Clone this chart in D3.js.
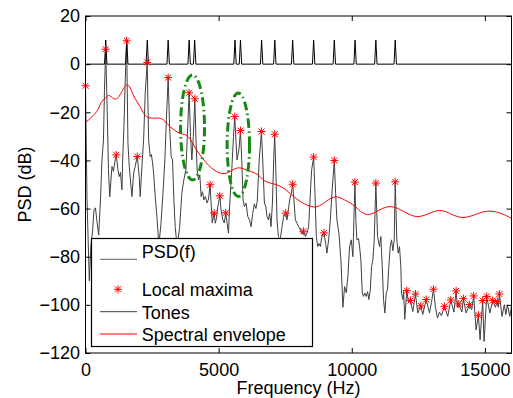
<!DOCTYPE html>
<html>
<head>
<meta charset="utf-8">
<script src="https://cdn.jsdelivr.net/npm/d3@7"></script>
<style>
  body { margin: 0; background: #fff; }
  svg { display: block; font-family: 'Liberation Sans', Arial, Helvetica, sans-serif; }
</style>
</head>
<body>
<div id="chart"></div>
<script>
// tone frequencies (Hz), drawn as spikes from 0 to 10 dB
var toneFreqs = [760, 1550, 2320, 3105, 3893, 4100, 5615, 5820, 6615, 7110, 7780, 8569, 9345, 10125, 10905, 11633];
var toneLevel = 10;

// measured PSD: [frequency (Hz), level (dB)]
var psdData = [
  [0, -9.0], [56, -56], [143, -90], [206, -75], [263, -69.7], [319, -60.6], [375, -59.7], [431, -65.5], [495, -71],
  [563, -56.4], [619, -39.8], [675, -31.5], [713, -10.7], [758, 6.2], [806, -14.8], [863, -43.9], [911, -55.1],
  [994, -42.5], [1050, -44.5], [1118, -39.5], [1155, -37.7], [1219, -43.9], [1268, -46.7], [1313, -45], [1369, -52.2],
  [1395, -39.8], [1444, -25.9], [1493, -6.5], [1545, 9.7], [1594, -32.8], [1643, -42.5], [1744, -55], [1808, -45.3],
  [1856, -43], [1943, -38.4], [1969, -41.1], [2018, -46.7], [2055, -55], [2119, -42.5], [2183, -31.4], [2243, -12],
  [2318, 0.7], [2370, -31.4], [2430, -38.4], [2475, -37.5], [2520, -41.1], [2558, -45.3], [2618, -55], [2681, -63.3],
  [2756, -75], [2831, -66.8], [2906, -54.4], [2981, -39.8], [3038, -23.1], [3105, -5.6],
  [3158, -25.9], [3218, -38.4], [3270, -39.8], [3319, -56.4], [3368, -67.5], [3443, -76], [3533, -68], [3619, -53.6],
  [3694, -48], [3769, -44], [3825, -30], [3893, -11.9], [3945, -30], [3994, -39.8], [4050, -30], [4106, -14.4],
  [4155, -32.8], [4193, -43.9], [4245, -48.1], [4294, -46], [4343, -55], [4395, -53], [4444, -56.4], [4500, -55],
  [4568, -57.7], [4620, -56], [4680, -50.1], [4718, -57.7], [4760, -66], [4830, -61.9], [4875, -66.1], [4920, -64],
  [4969, -59.2], [5044, -54.7], [5093, -60.5], [5156, -64.7], [5213, -66], [5269, -61.8], [5318, -66.1], [5370, -70.2],
  [5419, -57.7], [5494, -43.9], [5558, -30.1], [5606, -21.8], [5651, -32], [5693, -39.8], [5768, -35], [5820, -27.6],
  [5869, -39.8], [5918, -56.4], [5970, -59.2], [6030, -57.7], [6094, -63.3], [6158, -64.7], [6218, -67.5], [6281, -62],
  [6340, -58], [6400, -60], [6450, -57], [6525, -39.8], [6608, -28], [6656, -39.8], [6720, -57.7], [6769, -59],
  [6818, -63.3], [6870, -64.7], [6919, -62], [6968, -67.5], [7020, -57.7], [7069, -39.8], [7106, -29.1], [7155, -46.7],
  [7193, -64.7], [7245, -71.6], [7313, -73], [7380, -67.5], [7444, -63.3], [7519, -61.9], [7568, -64.7], [7620, -60.5],
  [7669, -56.4], [7733, -53.6], [7781, -49.9], [7819, -55], [7883, -64.7], [7943, -66.1], [8006, -67.5], [8070, -68.8],
  [8130, -70.5], [8183, -69.4], [8258, -71.6], [8318, -70.2], [8381, -67.5], [8445, -53.6], [8494, -43.9], [8569, -38.6],
  [8618, -53.6], [8670, -71.6], [8719, -75.8], [8768, -74.5], [8820, -75.8], [8880, -71.6], [8955, -70.1], [9019, -74.4],
  [9068, -78.5], [9131, -73], [9195, -64.7], [9255, -53.6], [9345, -40.0], [9394, -53.6], [9443, -64.7], [9518, -70.2],
  [9593, -81.3], [9668, -101],
  [9731, -92.4], [9795, -95], [9855, -88.2], [9919, -75.8], [9983, -73], [10043, -80], [10080, -65], [10118, -49.0],
  [10155, -65], [10193, -73], [10256, -72.5], [10294, -75.8], [10343, -81.3], [10395, -95.1], [10444, -96.5],
  [10493, -95.1], [10545, -96.5], [10594, -94.5], [10643, -97.8], [10695, -94], [10744, -84.1], [10793, -81.3],
  [10845, -73], [10905, -49.4], [10969, -71.6], [11044, -75.8], [11093, -71.6], [11145, -84.1], [11194, -97.8],
  [11243, -103.4], [11295, -95.1], [11344, -93.5], [11393, -84.1], [11445, -75.8], [11494, -73], [11543, -77.5],
  [11595, -73], [11633, -48.9], [11693, -73], [11745, -78.5], [11794, -75.8], [11843, -84.1], [11869, -95.1],
  [11918, -97.8], [11950, -94.5], [11990, -106],
  [12068, -94.1], [12131, -99], [12206, -98.2], [12293, -102.8], [12394, -95.5], [12480, -103.4], [12593, -100.4],
  [12668, -104], [12795, -97.8], [12919, -103.4], [12994, -99], [13069, -93.5], [13144, -101], [13219, -105.5],
  [13294, -103], [13369, -104.5], [13481, -100.6], [13605, -104.8], [13718, -98.0], [13838, -103], [13920, -94.2],
  [13969, -101], [14018, -99.6], [14138, -103], [14194, -97.4], [14295, -103.4], [14419, -99.9], [14505, -102],
  [14580, -96.3], [14670, -110.4], [14756, -104.3], [14820, -114.5], [14918, -98.2], [14970, -115.2], [15068, -96.5],
  [15188, -103.4], [15293, -98.2], [15394, -101], [15469, -98.6], [15506, -101], [15544, -95.5], [15645, -104.8],
  [15731, -99.9], [15788, -104], [15844, -100], [15938, -104.8], [16000, -100.6]
];

// detected local maxima: [frequency (Hz), level (dB)]
var maximaData = [
  [0, -9.0], [758, 6.2], [1155, -37.7], [1545, 9.7], [1943, -38.4], [2318, 0.7], [3105, -5.6], [3893, -11.9],
  [4106, -14.4], [4680, -50.1], [4830, -61.9], [5044, -54.7], [5269, -61.8], [5606, -21.8], [5820, -27.6],
  [6608, -28], [7106, -29.1], [7519, -61.9], [7781, -49.9], [8183, -69.4], [8569, -38.6], [8955, -70.1], [9345, -40.0],
  [10118, -49.0], [10905, -49.4], [11633, -48.9],
  [12068, -94.1], [12206, -98.2], [12394, -95.5], [12593, -100.4], [12795, -97.8], [13069, -93.5], [13481, -100.6],
  [13718, -98.0], [13920, -94.2], [14018, -99.6], [14194, -97.4], [14419, -99.9], [14580, -96.3], [14756, -104.3],
  [14918, -98.2], [15068, -96.5], [15293, -98.2], [15469, -98.6], [15544, -95.5]
];

// spectral envelope: [frequency (Hz), level (dB)]
var envelopeData = [
  [0, -24.3], [420, -19.7], [581, -16.1], [795, -13.5], [919, -13.2], [1106, -14.5], [1294, -12.8], [1568, -8.6],
  [1793, -12.8], [2044, -17.6], [2295, -21.8], [2670, -22.4], [2918, -23.1], [3169, -25.9], [3544, -28.7],
  [3855, -30.1], [4170, -35.6], [4545, -41.1], [4920, -44.6], [5295, -45.3], [5670, -43.2], [6045, -43.9],
  [6480, -46.0], [6731, -48.5], [7170, -50.1], [7545, -52.4], [7931, -56.0], [8318, -58.5], [8693, -59.2],
  [9068, -56.8], [9394, -55.1], [9731, -56.4], [10144, -59.3], [10669, -62.4], [11483, -59.2], [12420, -63.3],
  [13294, -60.8], [14145, -63.7], [15083, -61.1], [16000, -64]
];

// highlighted tone pairs: centre (Hz, dB) and half-widths (Hz, dB)
var highlightCx = [4020, 5740];
var highlightCy = [-26.3, -33.5];
var highlightRx = [450, 420];
var highlightRy = [21.8, 21.5];

var xTicks = [0, 5000, 10000, 15000];
var yTicks = [20, 0, -20, -40, -60, -80, -100, -120];
var legendLabels = ['PSD(f)', 'Local maxima', 'Tones', 'Spectral envelope'];

(function(d3) {
  'use strict';
  var width = 513;
  var height = 398;
  var mLeft = 85.5, mRight = 511.5, mTop = 16, mBottom = 353;

  var x = d3.scaleLinear().domain([0, 16000]).range([mLeft, mRight]);
  var y = d3.scaleLinear().domain([-120, 20]).range([mBottom, mTop]);

  var svg = d3.select('#chart')
    .append('svg')
    .attr('width', width)
    .attr('height', height);

  svg.append('defs').append('clipPath')
    .attr('id', 'plotclip')
    .append('rect')
    .attr('x', mLeft)
    .attr('y', mTop)
    .attr('width', mRight - mLeft)
    .attr('height', mBottom - mTop);

  var plot = svg.append('g').attr('clip-path', 'url(#plotclip)');

  var line = d3.line()
    .x(function(d) { return x(d[0]); })
    .y(function(d) { return y(d[1]); });

  // PSD curve
  plot.append('path')
    .datum(psdData)
    .attr('fill', 'none')
    .attr('stroke', '#404040')
    .attr('stroke-width', 1)
    .attr('stroke-linejoin', 'round')
    .attr('d', line);

  // tones: zero baseline with narrow spikes
  var tonePts = [[0, 0]];
  toneFreqs.forEach(function(f) {
    tonePts.push([f - 45, 0], [f, toneLevel], [f + 45, 0]);
  });
  tonePts.push([16000, 0]);
  plot.append('path')
    .datum(tonePts)
    .attr('fill', 'none')
    .attr('stroke', '#000')
    .attr('stroke-width', 1)
    .attr('d', line);

  // spectral envelope
  var smooth = d3.line()
    .x(function(d) { return x(d[0]); })
    .y(function(d) { return y(d[1]); })
    .curve(d3.curveNatural);
  plot.append('path')
    .datum(envelopeData)
    .attr('fill', 'none')
    .attr('stroke', '#ff0000')
    .attr('stroke-width', 1)
    .attr('d', smooth);

  // asterisk marker
  var starPath = 'M-4,0H4M0,-4V4M-3,-3L3,3M-3,3L3,-3';

  svg.append('g')
    .selectAll('path')
    .data(maximaData)
    .enter()
    .append('path')
    .attr('transform', function(d) {
      return 'translate(' + x(d[0]) + ',' + y(d[1]) + ')';
    })
    .attr('d', starPath)
    .attr('fill', 'none')
    .attr('stroke', '#ff0000')
    .attr('stroke-width', 1);

  // green dash-dot ellipses
  svg.append('g')
    .selectAll('ellipse')
    .data(highlightCx)
    .enter()
    .append('ellipse')
    .attr('cx', function(d) { return x(d); })
    .attr('cy', function(d, i) { return y(highlightCy[i]); })
    .attr('rx', function(d, i) { return x(highlightRx[i]) - x(0); })
    .attr('ry', function(d, i) { return y(0) - y(highlightRy[i]); })
    .attr('fill', 'none')
    .attr('stroke', '#148a14')
    .attr('stroke-width', 3)
    .attr('stroke-dasharray', '9,3.5,1.5,3.5');

  // axes: ticks point inward, labels outside
  var fmt = d3.format('d');
  svg.append('g')
    .attr('transform', 'translate(0,' + mBottom + ')')
    .call(d3.axisBottom(x).tickValues(xTicks).tickFormat(fmt).tickSizeInner(-5).tickSizeOuter(0).tickPadding(10));
  svg.append('g')
    .attr('transform', 'translate(0,' + mTop + ')')
    .call(d3.axisTop(x).tickValues(xTicks).tickSizeInner(-5).tickSizeOuter(0).tickFormat(''));
  svg.append('g')
    .attr('transform', 'translate(' + mLeft + ',0)')
    .call(d3.axisLeft(y).tickValues(yTicks).tickFormat(fmt).tickSizeInner(-5).tickSizeOuter(0).tickPadding(5.5));
  svg.append('g')
    .attr('transform', 'translate(' + mRight + ',0)')
    .call(d3.axisRight(y).tickValues(yTicks).tickSizeInner(-5).tickSizeOuter(0).tickFormat(''));

  svg.selectAll('.domain').remove();
  svg.selectAll('.tick line').attr('stroke', '#000').attr('stroke-width', 1);
  svg.selectAll('.tick text')
    .attr('fill', '#000')
    .style('font-size', '18px')
    .style('font-family', "'Liberation Sans', Arial, Helvetica, sans-serif");

  // legend
  var legend = svg.append('g');
  legend.append('rect')
    .attr('x', 91.5)
    .attr('y', 238.5)
    .attr('width', 221)
    .attr('height', 108)
    .attr('fill', '#fff')
    .attr('stroke', '#000')
    .attr('stroke-width', 1.2);

  var legendLineY = [259.3, null, 311.7, 334];
  var legendTextY = [258, 296, 319.3, 341];
  var legendColor = ['#606060', null, '#404040', '#ff0000'];

  legendLabels.forEach(function(label, i) {
    if (legendLineY[i] !== null) {
      legend.append('line')
        .attr('x1', 100)
        .attr('x2', 137)
        .attr('y1', legendLineY[i])
        .attr('y2', legendLineY[i])
        .attr('stroke', legendColor[i])
        .attr('stroke-width', 1);
    } else {
      legend.append('path')
        .attr('transform', 'translate(118,289.3)')
        .attr('d', starPath)
        .attr('fill', 'none')
        .attr('stroke', '#ff0000')
        .attr('stroke-width', 1);
    }
    legend.append('text')
      .attr('x', 141.7)
      .attr('y', legendTextY[i])
      .style('font-size', '18px')
      .attr('fill', '#000')
      .text(label);
  });

  // plot box
  svg.append('rect')
    .attr('x', mLeft)
    .attr('y', mTop)
    .attr('width', mRight - mLeft)
    .attr('height', mBottom - mTop)
    .attr('fill', 'none')
    .attr('stroke', '#000')
    .attr('stroke-width', 1);

  // axis titles
  svg.append('text')
    .attr('x', (mLeft + mRight) / 2)
    .attr('y', 394)
    .attr('text-anchor', 'middle')
    .style('font-size', '18px')
    .text('Frequency (Hz)');

  svg.append('text')
    .attr('transform', 'translate(31,' + ((mTop + mBottom) / 2) + ') rotate(-90)')
    .attr('text-anchor', 'middle')
    .style('font-size', '18px')
    .text('PSD (dB)');
})(window.d3);
</script>
</body>
</html>
